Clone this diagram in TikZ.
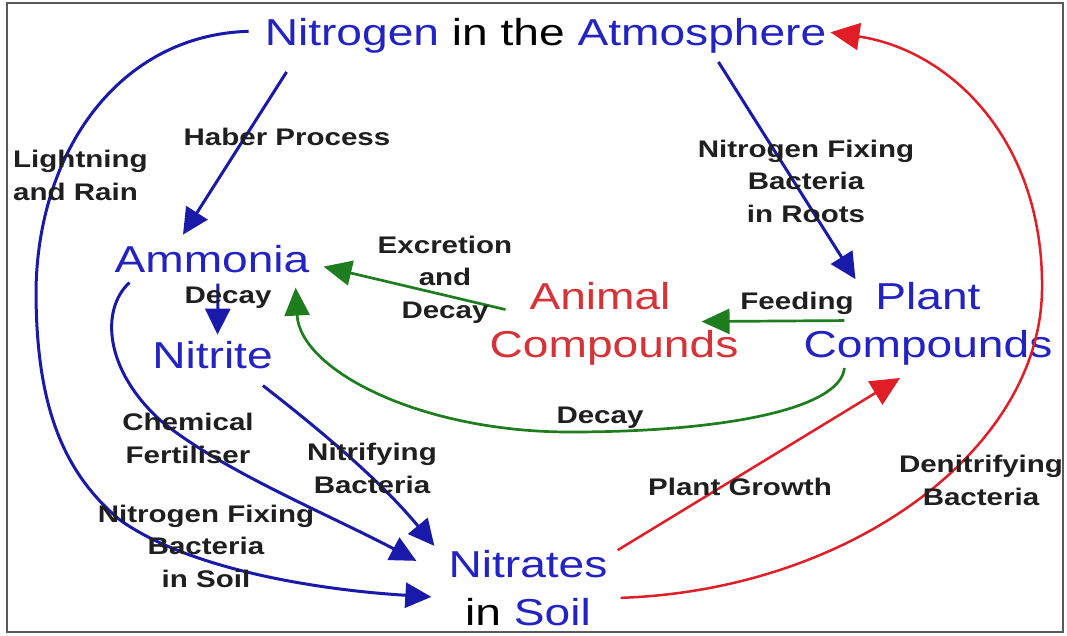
\documentclass[tikz,border=0pt]{standalone}
\usepackage{fontspec}
\setmainfont{Liberation Sans}[FakeStretch=1.23]
\usetikzlibrary{arrows.meta,calc}
\definecolor{tblue}{RGB}{35,35,195}
\definecolor{lblue}{RGB}{25,25,170}
\definecolor{tred}{RGB}{215,50,55}
\definecolor{lred}{RGB}{225,30,40}
\definecolor{lgreen}{RGB}{30,125,30}
\definecolor{framegray}{RGB}{90,90,90}
\begin{document}
\begin{tikzpicture}[x=1pt,y=-1pt,
  big/.style={font=\fontsize{37.5}{47.5}\selectfont, inner sep=0pt, anchor=base, align=center},
  lbl/.style={font=\fontsize{24}{32.5}\selectfont\bfseries, text=black!88, inner sep=0pt, anchor=base, align=center},
  bluearrow/.style={draw=lblue, fill=lblue, line width=3pt, -{Triangle[length=26pt,width=25pt]}},
  redarrow/.style={draw=lred, line width=2.5pt, -{Triangle[length=29pt,width=27pt]}},
  greenarrow/.style={draw=lgreen, line width=2.7pt, -{Triangle[length=28pt,width=25pt]}},
]
\useasboundingbox (0,0) rectangle (1067,635);
\fill[white] (0,0) rectangle (1067,635);
\draw[framegray, line width=1.6pt] (7,3) rectangle (1063,632);

% main nodes (base anchor = baseline of last line)
\node[big] (atm) at (545.5,45) {\textcolor{tblue}{Nitrogen} in the \textcolor{tblue}{Atmosphere}};
\node[big, text=tblue] (amm) at (212,272) {Ammonia};
\node[big, text=tblue] (nitrite) at (212.5,368) {Nitrite};
\node[big, text=tred] (animal) at (614,357) {Animal\hspace*{28pt}\\Compounds};
\node[big, text=tblue] (plant) at (928,357) {Plant\\Compounds};
\node[big, text=tblue] (nitrates) at (528,625) {Nitrates\\\textcolor{black}{in} Soil};

% connectors
\draw[bluearrow, fill=none] ([shift={(-16,-4)}]atm.west) .. controls (120,35) and (38,150) .. (36,290)
  .. controls (36,400) and (60,470) .. (120,520)
  .. controls (190,570) and (320,590) .. ([shift={(-17,9)}]nitrates.west);
\draw[bluearrow] ([shift={(22,19)}]atm.south west) -- ([shift={(-29,-10)}]amm.north);
\draw[bluearrow] ([shift={(-108,9)}]atm.south east) -- ([shift={(52,-3)}]plant.north west);
\draw[redarrow] ([shift={(13,10)}]nitrates.east) .. controls (850,590) and (1040,450) .. (1042,290)
  .. controls (1044,140) and (950,50) .. ([shift={(4,-3)}]atm.east);
\draw[redarrow] ([shift={(10,0)}]nitrates.north east) -- ([shift={(-28,13)}]plant.south);
\draw[greenarrow] ([shift={(41,-3)}]plant.west) -- ([shift={(-37,-2)}]animal.east);
\draw[greenarrow] ([shift={(16,-14)}]animal.west) -- ([shift={(14,8)}]amm.east);
\draw[greenarrow] ([shift={(41,3)}]plant.south west) .. controls (840,410) and (720,432) .. (570,432)
  .. controls (420,432) and (300,370) .. ([shift={(-14,15)}]amm.south east);
\draw[bluearrow] ([shift={(6,11)}]amm.south) -- ([shift={(5,-6)}]nitrite.north);
\draw[bluearrow, fill=none] ([shift={(15,10)}]amm.south west) .. controls (100,310) and (105,370) .. (160,420)
  .. controls (220,470) and (330,515) .. ([shift={(-32,-27)}]nitrates.west);
\draw[bluearrow, fill=none] ([shift={(-10,17)}]nitrite.south east) .. controls (320,430) and (380,480) .. ([shift={(-14,-42)}]nitrates.west);

% labels (base anchor = baseline of last line)
\node[lbl] (haber) at (287,145) {Haber Process};
\node[lbl, align=left, anchor=base west] (light) at (13,200) {Lightning\\and Rain};
\node[lbl] (roots) at (806,222) {Nitrogen Fixing\\Bacteria\\in Roots};
\node[lbl] (excr) at (445,318) {Excretion\\and\\Decay};
\node[lbl] (decay1) at (228,303) {Decay};
\node[lbl] (feed) at (797,309) {Feeding};
\node[lbl] (decay2) at (600,423) {Decay};
\node[lbl] (chem) at (188,463) {Chemical\\Fertiliser};
\node[lbl] (nitrif) at (372,493) {Nitrifying\\Bacteria};
\node[lbl] (soilfix) at (206,587) {Nitrogen Fixing\\Bacteria\\in Soil};
\node[lbl] (growth) at (740,495) {Plant Growth};
\node[lbl] (denit) at (981,505) {Denitrifying\\Bacteria};
\end{tikzpicture}
\end{document}
